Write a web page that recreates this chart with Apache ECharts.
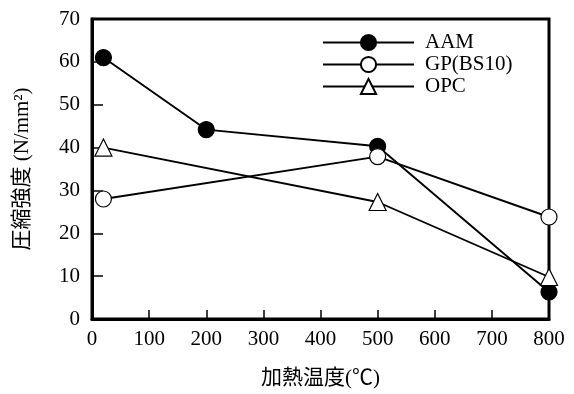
<!DOCTYPE html>
<html>
<head>
<meta charset="utf-8">
<script src="https://cdn.jsdelivr.net/npm/echarts@6/dist/echarts.min.js"></script>
<style>
  html, body { margin: 0; padding: 0; background: #fff; }
  #chart { width: 574px; height: 394px; }
</style>
</head>
<body>
<div id="chart"></div>
<script>
// Heating temperature (°C) at which each specimen was tested
const temperatures = [20, 200, 500, 800];
const tempsGP = [20, 500, 800];
const tempsOPC = [20, 500, 800];

// Compressive strength (N/mm²)
const strengthAAM = [61, 44.2, 40.3, 6.3];
const strengthGP = [28, 37.9, 23.8];
const strengthOPC = [40, 27.3, 9.8];

const seriesNames = ['AAM', 'GP(BS10)', 'OPC'];

const xTicks = { min: 0, max: 800, interval: 100 };
const yTicks = { min: 0, max: 70, interval: 10 };

const serif = "'Liberation Serif', 'Times New Roman', 'Noto Sans CJK JP', serif";

function pairs(xs, ys) {
  return xs.map((x, i) => [x, ys[i]]);
}

const chart = echarts.init(document.getElementById('chart'), null, { renderer: 'canvas' });

const lineStyle = { color: '#000', width: 1.9 };

chart.setOption({
  animation: false,
  backgroundColor: '#fff',
  textStyle: { fontFamily: serif, color: '#000' },
  grid: {
    left: 92, right: 25, top: 19, bottom: 73,
    containLabel: false,
    show: true,
    borderColor: '#000',
    borderWidth: 3,
    backgroundColor: 'transparent'
  },
  legend: {
    orient: 'vertical',
    left: 322,
    top: 32,
    padding: 0,
    itemWidth: 91,
    itemHeight: 19,
    itemGap: 1,
    textStyle: { fontFamily: serif, fontSize: 21, color: '#000', lineHeight: 21, padding: [0, 0, 0, 6] },
    data: seriesNames
  },
  xAxis: {
    type: 'value',
    min: xTicks.min, max: xTicks.max, interval: xTicks.interval,
    name: '加熱温度(℃)',
    nameLocation: 'middle',
    nameGap: 49,
    nameTextStyle: { fontFamily: serif, fontSize: 21, color: '#000' },
    axisLine: { show: true, lineStyle: { color: '#000', width: 3 } },
    axisTick: { show: true, inside: true, length: 9, lineStyle: { color: '#000', width: 1.5 } },
    axisLabel: { fontFamily: serif, fontSize: 21, color: '#000', margin: 10 },
    splitLine: { show: false }
  },
  yAxis: {
    type: 'value',
    min: yTicks.min, max: yTicks.max, interval: yTicks.interval,
    name: '圧縮強度 (N/mm²)',
    nameLocation: 'middle',
    nameGap: 59,
    nameTextStyle: { fontFamily: serif, fontSize: 21, color: '#000' },
    axisLine: { show: true, lineStyle: { color: '#000', width: 3 } },
    axisTick: { show: true, inside: true, length: 11, lineStyle: { color: '#000', width: 1.5 } },
    axisLabel: { fontFamily: serif, fontSize: 21, color: '#000', margin: 12 },
    splitLine: { show: false }
  },
  series: [
    {
      name: seriesNames[0],
      type: 'line',
      data: pairs(temperatures, strengthAAM),
      symbol: 'circle',
      symbolSize: 16,
      lineStyle: lineStyle,
      itemStyle: { color: '#000', borderColor: '#000', borderWidth: 1.2 }
    },
    {
      name: seriesNames[1],
      type: 'line',
      data: pairs(tempsGP, strengthGP),
      symbol: 'circle',
      symbolSize: 16,
      lineStyle: lineStyle,
      itemStyle: { color: '#fff', borderColor: '#000', borderWidth: 1.2 }
    },
    {
      name: seriesNames[2],
      type: 'line',
      data: pairs(tempsOPC, strengthOPC),
      symbol: 'triangle',
      symbolSize: 17,
      lineStyle: lineStyle,
      itemStyle: { color: '#fff', borderColor: '#000', borderWidth: 1.2 }
    }
  ]
});
</script>
</body>
</html>
